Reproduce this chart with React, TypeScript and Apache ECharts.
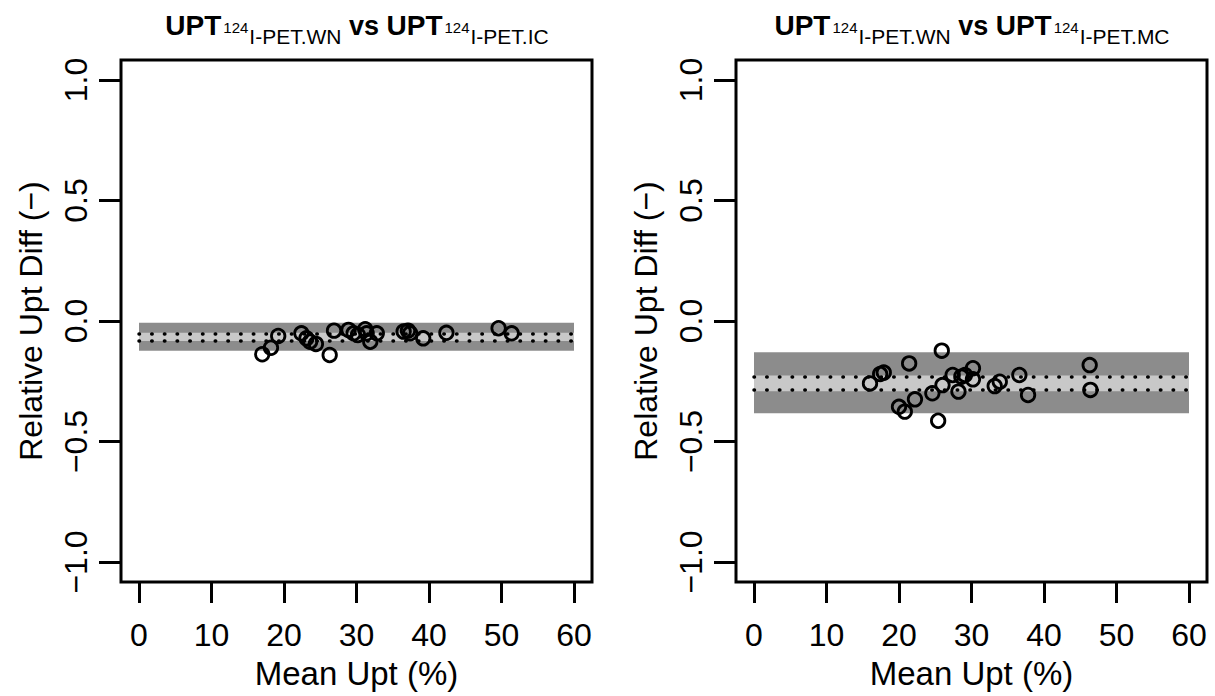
import React, { useEffect, useRef } from "react";
import * as echarts from "echarts";

const xTicks = [0, 10, 20, 30, 40, 50, 60];
const yTicks = [-1, -0.5, 0, 0.5, 1];
const yTickLabels = ["−1.0", "−0.5", "0.0", "0.5", "1.0"];

const leftX = [17.0, 18.2, 19.2, 22.4, 23.1, 23.6, 24.4, 26.3, 26.9, 28.9, 29.6, 30.2, 31.2, 31.4, 31.9, 32.8, 36.5, 37.1, 37.4, 39.2, 42.4, 49.6, 51.4];
const leftY = [-0.138, -0.111, -0.062, -0.051, -0.072, -0.086, -0.095, -0.141, -0.040, -0.037, -0.051, -0.058, -0.034, -0.051, -0.086, -0.051, -0.044, -0.040, -0.051, -0.072, -0.049, -0.030, -0.051];
const leftOuter = [-0.007, -0.123];
const leftInner = [-0.049, -0.083];
const leftDotted = [-0.051, -0.081];

const rightX = [16.0, 17.4, 17.9, 21.4, 20.0, 20.8, 22.2, 24.6, 25.9, 26.0, 25.4, 27.4, 28.2, 28.6, 29.1, 30.2, 30.2, 33.2, 33.9, 36.6, 37.8, 46.3, 46.4];
const rightY = [-0.259, -0.220, -0.214, -0.176, -0.356, -0.376, -0.325, -0.300, -0.123, -0.266, -0.414, -0.224, -0.293, -0.231, -0.224, -0.196, -0.242, -0.270, -0.252, -0.224, -0.307, -0.183, -0.286];
const rightOuter = [-0.130, -0.383];
const rightInner = [-0.226, -0.291];
const rightDotted = [-0.230, -0.287];

const titleLeft = ["UPT", "124", "I-PET.WN", "vs", "UPT", "124", "I-PET.IC"];
const titleRight = ["UPT", "124", "I-PET.WN", "vs", "UPT", "124", "I-PET.MC"];

const FONT = "'Liberation Sans', Arial, Helvetica, sans-serif";

function titleText(t: string[]) {
  return `{b|${t[0]}}{sup|${t[1]}}{sub|${t[2]}}{vs| ${t[3]} }{b|${t[4]}}{sup|${t[5]}}{sub|${t[6]}}`;
}

const rich = {
  b: { fontFamily: FONT, fontSize: 28, fontWeight: "bold", color: "#000", verticalAlign: "bottom", padding: [0, 0, 7, 0] },
  vs: { fontFamily: FONT, fontSize: 27, fontWeight: "bold", color: "#000", verticalAlign: "bottom", padding: [0, 0, 7, 0] },
  sup: { fontFamily: FONT, fontSize: 15, color: "#000", verticalAlign: "bottom", padding: [0, 1, 12, 2] },
  sub: { fontFamily: FONT, fontSize: 21, color: "#000", verticalAlign: "bottom", padding: [0, 0, 0, 0] },
};

export default function App() {
  const ref = useRef<HTMLDivElement>(null);
  useEffect(() => {
    if (!ref.current) return;
    const chart = echarts.init(ref.current, null, { renderer: "svg" });
    const grids = [
      { left: 139, top: 80, width: 435, height: 482 },
      { left: 754, top: 80, width: 435, height: 482 },
    ];
    const mkX = (i: number) => ({
      type: "value",
      gridIndex: i,
      min: 0,
      max: 60,
      interval: 10,
      offset: 20,
      position: "bottom",
      name: "Mean Upt (%)",
      nameLocation: "middle",
      nameGap: 75,
      nameTextStyle: { fontFamily: FONT, fontSize: 33, color: "#000" },
      axisLine: { show: false, onZero: false },
      axisTick: { show: true, length: 21, lineStyle: { color: "#000", width: 3 } },
      axisLabel: {
        fontFamily: FONT,
        fontSize: 32,
        color: "#000",
        margin: 37,
        formatter: (v: number) => (xTicks.includes(v) ? String(v) : ""),
      },
      splitLine: { show: false },
    });
    const mkY = (i: number) => ({
      type: "value",
      gridIndex: i,
      min: -1,
      max: 1,
      interval: 0.5,
      offset: 18,
      position: "left",
      name: "Relative Upt Diff (−)",
      nameLocation: "middle",
      nameGap: 74,
      nameTextStyle: { fontFamily: FONT, fontSize: 32, color: "#000" },
      axisLine: { show: false, onZero: false },
      axisTick: { show: true, length: 22, lineStyle: { color: "#000", width: 3 } },
      axisLabel: {
        fontFamily: FONT,
        fontSize: 32,
        color: "#000",
        rotate: 90,
        margin: 29,
        formatter: (v: number) => {
          const k = yTicks.findIndex((t) => Math.abs(t - v) < 1e-9);
          return k >= 0 ? yTickLabels[k] : "";
        },
      },
      splitLine: { show: false },
    });
    const bandSeries = (i: number, outer: number[], inner: number[], dotted: number[]) => ({
      type: "scatter",
      xAxisIndex: i,
      yAxisIndex: i,
      data: [],
      z: 1,
      silent: true,
      markArea: {
        silent: true,
        data: [
          [
            { xAxis: 0, yAxis: outer[0], itemStyle: { color: "#8c8c8c", opacity: 1 } },
            { xAxis: 60, yAxis: outer[1] },
          ],
          [
            { xAxis: 0, yAxis: inner[0], itemStyle: { color: "#c8c8c8", opacity: 1 } },
            { xAxis: 60, yAxis: inner[1] },
          ],
        ],
      },
      markLine: {
        silent: true,
        symbol: ["none", "none"],
        label: { show: false },
        lineStyle: { color: "#000", width: 3.5, type: [0.5, 12.2], cap: "round", opacity: 1 },
        data: dotted.map((d) => [
          { coord: [0, d] },
          { coord: [60, d] },
        ]),
      },
    });
    const pointSeries = (i: number, xs: number[], ys: number[]) => ({
      type: "scatter",
      xAxisIndex: i,
      yAxisIndex: i,
      z: 5,
      symbol: "circle",
      symbolSize: 13.5,
      itemStyle: { color: "rgba(0,0,0,0)", borderColor: "#000", borderWidth: 2.8, opacity: 1 },
      data: xs.map((x, k) => [x, ys[k]]),
    });
    chart.setOption({
      animation: false,
      backgroundColor: "#fff",
      grid: grids,
      xAxis: [mkX(0), mkX(1)],
      yAxis: [mkY(0), mkY(1)],
      series: [
        bandSeries(0, leftOuter, leftInner, leftDotted),
        pointSeries(0, leftX, leftY),
        bandSeries(1, rightOuter, rightInner, rightDotted),
        pointSeries(1, rightX, rightY),
      ],
      graphic: [
        { type: "rect", shape: { x: 121, y: 60, width: 471, height: 522 }, style: { fill: "none", stroke: "#000", lineWidth: 3 }, z: 10 },
        { type: "rect", shape: { x: 736, y: 60, width: 471, height: 522 }, style: { fill: "none", stroke: "#000", lineWidth: 3 }, z: 10 },
        { type: "text", x: 357, y: 29, style: { text: titleText(titleLeft), rich, align: "center", verticalAlign: "middle" }, z: 10 },
        { type: "text", x: 972, y: 29, style: { text: titleText(titleRight), rich, align: "center", verticalAlign: "middle" }, z: 10 },
      ],
    });
    return () => chart.dispose();
  }, []);
  return <div ref={ref} style={{ position: "fixed", left: 0, top: 0, width: 1215, height: 696 }} />;
}
